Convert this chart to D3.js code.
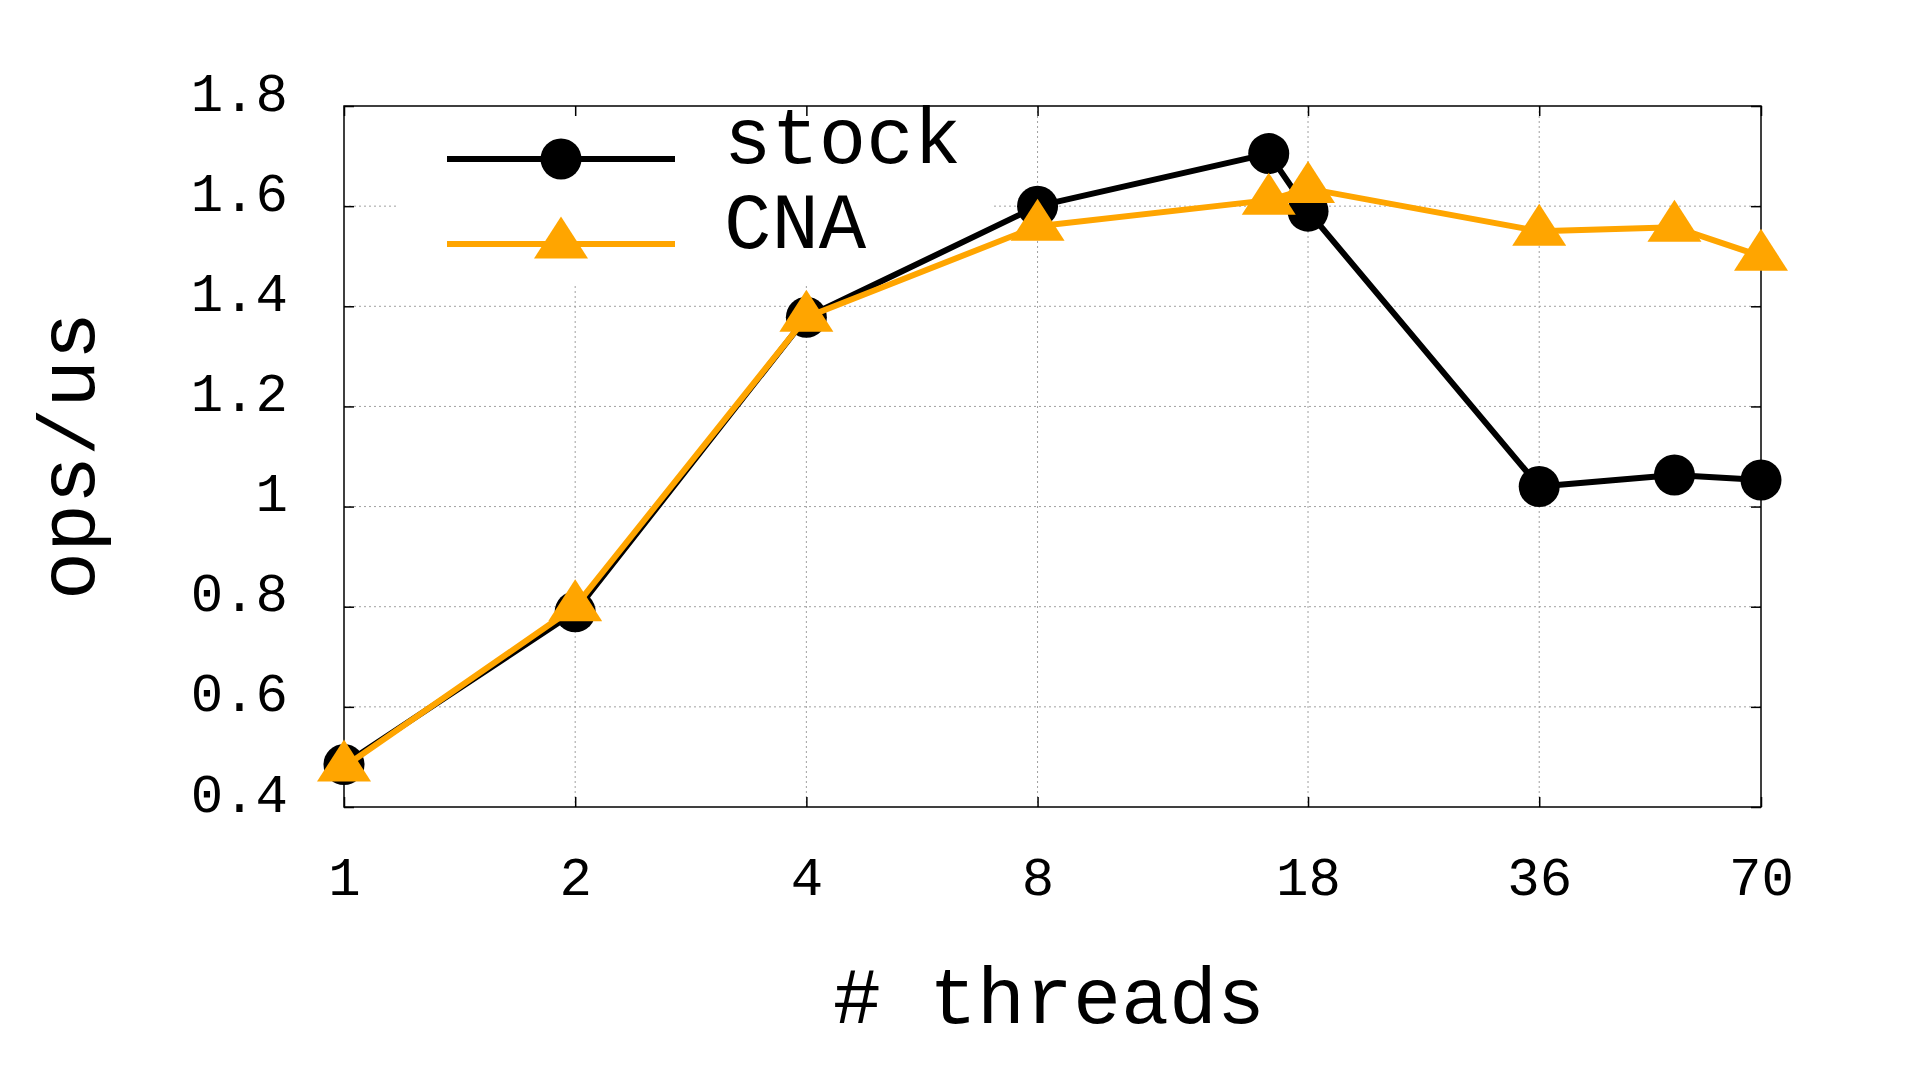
<!DOCTYPE html>
<html>
<head>
<meta charset="utf-8">
<script src="https://cdn.jsdelivr.net/npm/d3@7"></script>
<style>
  body { margin: 0; background: #fff; }
  svg { display: block; }
  text { font-family: "Liberation Mono", "DejaVu Sans Mono", monospace; fill: #000; }
</style>
</head>
<body>
<svg width="1920" height="1080"></svg>
<script>
// data
const threads = [1, 2, 4, 8, 16, 18, 36, 54, 70];
const stockOps = [0.485, 0.79, 1.378, 1.60, 1.705, 1.59, 1.04, 1.063, 1.053];
const cnaOps = [0.48, 0.80, 1.378, 1.56, 1.612, 1.635, 1.55, 1.558, 1.50];
const xTickValues = [1, 2, 4, 8, 18, 36, 70];
const yTickValues = [0.4, 0.6, 0.8, 1.0, 1.2, 1.4, 1.6, 1.8];
const seriesNames = ["stock", "CNA"];

const svg = d3.select("svg");
svg.append("rect").attr("width", 1920).attr("height", 1080).attr("fill", "#fff");

const plotL = 344, plotR = 1761, plotT = 106, plotB = 807;
const w = plotR - plotL, h = plotB - plotT;

const x = d3.scaleLog().base(2).domain([1, 70]).range([plotL, plotR]);
const y = d3.scaleLinear().domain([0.4, 1.8]).range([plotB, plotT]);

// grid
const grid = svg.append("g");
grid.selectAll(".gx")
    .data(xTickValues.slice(1, -1))
    .enter().append("line")
    .attr("x1", d => x(d)).attr("x2", d => x(d))
    .attr("y1", plotT).attr("y2", plotB);
grid.selectAll(".gy")
    .data(yTickValues.slice(1, -1))
    .enter().append("line")
    .attr("x1", plotL).attr("x2", plotR)
    .attr("y1", d => y(d)).attr("y2", d => y(d));
grid.selectAll("line")
    .attr("stroke", "#a0a0a0")
    .attr("stroke-width", 1)
    .attr("stroke-dasharray", "2,3");

// opaque legend box
svg.append("rect")
    .attr("x", 398).attr("y", plotT + 1)
    .attr("width", 594).attr("height", 178)
    .attr("fill", "#fff");

// axes with inward ticks
const fmt = d => d3.format("~g")(d);
const xAxis = svg.append("g")
    .attr("transform", `translate(0,${plotB})`)
    .call(d3.axisBottom(x).tickValues(xTickValues).tickSize(-10).tickFormat(fmt));
xAxis.selectAll("text").attr("y", 88).attr("dy", 0);

svg.append("g")
    .attr("transform", `translate(0,${plotT})`)
    .call(d3.axisTop(x).tickValues(xTickValues).tickSize(-10).tickFormat(""));

const yAxis = svg.append("g")
    .attr("transform", `translate(${plotL},0)`)
    .call(d3.axisLeft(y).tickValues(yTickValues).tickSize(-10).tickFormat(fmt));
yAxis.selectAll("text").attr("x", -56).attr("dy", 4);

svg.append("g")
    .attr("transform", `translate(${plotR},0)`)
    .call(d3.axisRight(y).tickValues(yTickValues).tickSize(-10).tickFormat(""));

svg.selectAll(".domain").remove();
svg.selectAll(".tick line").attr("stroke", "#000").attr("stroke-width", 1.5);
svg.selectAll(".tick text")
    .style("font-family", "'Liberation Mono', monospace")
    .style("font-size", "54px")
    .attr("fill", "#000");

// border
svg.append("rect")
    .attr("x", plotL).attr("y", plotT)
    .attr("width", w).attr("height", h)
    .attr("fill", "none")
    .attr("stroke", "#000")
    .attr("stroke-width", 1.5);

// series
const line = d3.line().x(d => x(d[0])).y(d => y(d[1]));
const tri = "M0,-27.5L27,14.5L-27,14.5Z";

const stockData = threads.map((t, i) => [t, stockOps[i]]);
const cnaData = threads.map((t, i) => [t, cnaOps[i]]);

svg.append("path")
    .datum(stockData)
    .attr("d", line)
    .attr("fill", "none")
    .attr("stroke", "#000")
    .attr("stroke-width", 6)
    .attr("stroke-linejoin", "round");
svg.selectAll(".pt-stock")
    .data(stockData)
    .enter().append("circle")
    .attr("cx", d => x(d[0]))
    .attr("cy", d => y(d[1]))
    .attr("r", 20.5)
    .attr("fill", "#000");

svg.append("path")
    .datum(cnaData)
    .attr("d", line)
    .attr("fill", "none")
    .attr("stroke", "#ffa500")
    .attr("stroke-width", 6)
    .attr("stroke-linejoin", "round");
svg.selectAll(".pt-cna")
    .data(cnaData)
    .enter().append("path")
    .attr("d", tri)
    .attr("transform", d => `translate(${x(d[0])},${y(d[1])})`)
    .attr("fill", "#ffa500");

// legend
const legend = svg.append("g");
legend.append("line")
    .attr("x1", 447).attr("x2", 675).attr("y1", 159).attr("y2", 159)
    .attr("stroke", "#000").attr("stroke-width", 6);
legend.append("circle")
    .attr("cx", 561).attr("cy", 159).attr("r", 20.5).attr("fill", "#000");
legend.append("line")
    .attr("x1", 447).attr("x2", 675).attr("y1", 244).attr("y2", 244)
    .attr("stroke", "#ffa500").attr("stroke-width", 6);
legend.append("path")
    .attr("d", tri)
    .attr("transform", "translate(561,244)")
    .attr("fill", "#ffa500");
legend.selectAll(".lt")
    .data(seriesNames)
    .enter().append("text")
    .attr("x", 724)
    .attr("y", (d, i) => [163, 248][i])
    .style("font-size", "79px")
    .text(d => d);

// axis titles
svg.append("text")
    .attr("x", 1049)
    .attr("y", 1023)
    .attr("text-anchor", "middle")
    .style("font-size", "80px")
    .text("# threads");

svg.append("text")
    .attr("transform", "translate(94,456) rotate(-90)")
    .attr("text-anchor", "middle")
    .style("font-size", "80px")
    .text("ops/us");
</script>
</body>
</html>
